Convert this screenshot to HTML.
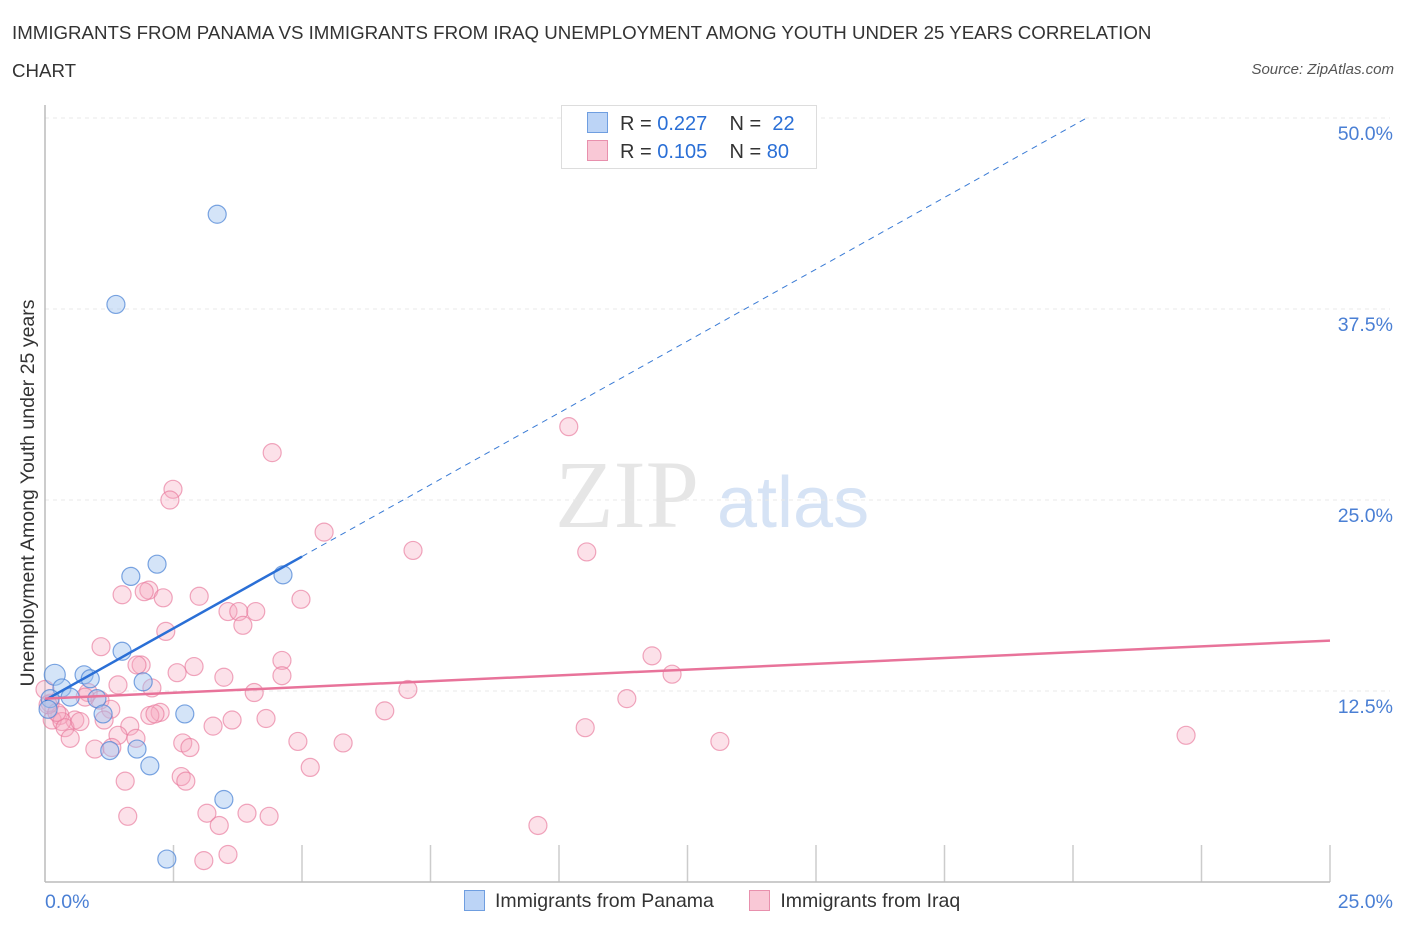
<!DOCTYPE html>
<html><head><meta charset="utf-8"><style>
body{margin:0;background:#fff;font-family:"Liberation Sans",sans-serif;}
#wrap{position:relative;width:1406px;height:930px;overflow:hidden;}
.t{position:absolute;white-space:nowrap;}
</style></head><body>
<div id="wrap">
<div class="t" style="left:12px;top:14px;font-size:18.7px;color:#333;line-height:38px;">IMMIGRANTS FROM PANAMA VS IMMIGRANTS FROM IRAQ UNEMPLOYMENT AMONG YOUTH UNDER 25 YEARS CORRELATION<br>CHART</div>
<div class="t" style="right:12px;top:61px;font-size:15px;color:#555;font-style:italic;">Source: ZipAtlas.com</div>
<svg id="svg" width="1406" height="930" style="position:absolute;left:0;top:0"></svg>
</div>
<script>
const panamaX=[3.35,1.38,2.18,1.67,4.63,1.50,0.19,0.76,0.88,0.33,1.91,0.10,1.01,2.72,1.13,1.26,1.79,2.04,3.48,2.37,0.49,0.06];
const panamaY=[43.7,37.8,20.8,20.0,20.1,15.1,13.56,13.56,13.3,12.7,13.1,12.0,12.0,11.0,11.0,8.6,8.7,7.6,5.4,1.5,12.1,11.3];
const iraqX=[10.19,4.42,2.49,2.43,5.43,7.16,10.54,2.02,1.50,1.93,2.30,3.00,4.98,3.56,3.77,4.10,3.85,2.35,1.09,1.87,1.79,2.90,2.57,4.61,4.61,11.81,12.20,3.48,1.42,2.08,7.06,4.07,11.32,0.84,1.07,0.78,0.10,1.28,6.61,2.24,2.04,2.14,3.64,4.30,3.27,1.65,1.15,0.58,0.29,0.14,0.33,0.39,0.68,1.42,0.49,10.51,1.77,2.68,4.92,5.80,13.13,22.20,2.82,0.97,1.30,5.16,2.65,1.56,2.74,1.61,3.15,3.93,4.36,3.39,9.59,3.56,3.09,0.0,0.06,0.23];
const iraqY=[29.8,28.1,25.7,25.0,22.9,21.7,21.6,19.1,18.8,19.0,18.6,18.7,18.5,17.7,17.7,17.7,16.8,16.4,15.4,14.2,14.2,14.1,13.7,14.5,13.5,14.8,13.6,13.4,12.9,12.7,12.6,12.4,12.0,12.4,11.9,12.1,11.7,11.3,11.2,11.1,10.9,11.0,10.6,10.7,10.2,10.2,10.6,10.6,10.9,10.6,10.5,10.1,10.5,9.6,9.4,10.1,9.4,9.1,9.2,9.1,9.2,9.6,8.8,8.7,8.8,7.5,6.9,6.6,6.6,4.3,4.5,4.5,4.3,3.7,3.7,1.8,1.4,12.6,11.6,11.1];
const panamaTrend=[11.9,1.88]; // intercept, slope
const iraqTrend=[12.0,0.152];
const yTicks=[12.5,25,37.5,50];
const yTickLabels=["12.5%","25.0%","37.5%","50.0%"];
const xTicks=[0,2.5,5,7.5,10,12.5,15,17.5,20,22.5,25];

const X0=45,X1=1330,Y0=882,Y50=118;
const sx=v=>X0+(X1-X0)*v/25;
const sy=v=>Y0-(Y0-Y50)*v/50;
const svg=document.getElementById('svg');
const NS='http://www.w3.org/2000/svg';
function mk(t,a,p){const e=document.createElementNS(NS,t);for(const k in a)e.setAttribute(k,a[k]);(p||svg).appendChild(e);return e;}

let wm=mk('text',{x:555,y:527,'font-size':96,'font-family':'Liberation Serif, serif',fill:'#e6e6e6'});wm.textContent='ZIP';


let wm2=mk('text',{x:717,y:527,'font-size':72,'font-family':'Liberation Sans, sans-serif',fill:'#d6e3f5'});wm2.textContent='atlas';



yTicks.forEach((v,i)=>{
  const g=mk('line',{x1:X0,x2:1390,y1:sy(v),y2:sy(v),stroke:'#e8e8e8','stroke-dasharray':'4 4'});
  
  
  const t=mk('text',{x:1393,y:sy(v)+22,'text-anchor':'end','font-size':19.5,fill:'#4a7fd4'});t.textContent=yTickLabels[i];
  
  
});
xTicks.forEach(v=>{
  if(v===0)return;
  const l=mk('line',{x1:sx(v),x2:sx(v),y1:845,y2:Y0,stroke:'#ccc','stroke-width':1.5});
  
  
});
let ax=mk('line',{x1:X0,x2:X1,y1:Y0,y2:Y0,stroke:'#bbb','stroke-width':1.5});


let ay=mk('line',{x1:X0,x2:X0,y1:105,y2:Y0,stroke:'#bbb','stroke-width':1.5});


let xl0=mk('text',{x:45,y:908,'font-size':19.5,fill:'#4a7fd4'});xl0.textContent='0.0%';


let xl1=mk('text',{x:1393,y:908,'text-anchor':'end','font-size':19.5,fill:'#4a7fd4'});xl1.textContent='25.0%';


let yt=mk('text',{x:0,y:0,'font-size':19.5,fill:'#333','text-anchor':'middle',transform:'translate(34,493) rotate(-90)'});yt.textContent='Unemployment Among Youth under 25 years';



iraqX.forEach((x,i)=>{
  const c=mk('circle',{cx:sx(x),cy:sy(iraqY[i]),r:9,fill:'rgba(246,170,192,0.35)',stroke:'rgba(232,120,155,0.65)','stroke-width':1.2});
  
  
});
panamaX.forEach((x,i)=>{
  const c=mk('circle',{cx:sx(x),cy:sy(panamaY[i]),r:i===6?10.5:9,fill:'rgba(160,195,240,0.45)',stroke:'rgba(80,135,215,0.75)','stroke-width':1.2});
  
  
});
const pEnd=(50-panamaTrend[0])/panamaTrend[1];
let pd=mk('line',{x1:sx(5),y1:sy(panamaTrend[0]+panamaTrend[1]*5),x2:sx(pEnd),y2:sy(50),stroke:'#3a7bd5','stroke-width':1,'stroke-dasharray':'6 5'});


let pl=mk('line',{x1:sx(0),y1:sy(panamaTrend[0]),x2:sx(5),y2:sy(panamaTrend[0]+panamaTrend[1]*5),stroke:'#2a6fd6','stroke-width':2.5});


let il=mk('line',{x1:sx(0),y1:sy(iraqTrend[0]),x2:sx(25),y2:sy(iraqTrend[0]+iraqTrend[1]*25),stroke:'#e8739a','stroke-width':2.5});


</script>
<div style="position:absolute;left:561px;top:105px;width:254px;height:62px;border:1px solid #ddd;background:#fff;font-size:20px;color:#333;">
 <div style="position:absolute;left:25px;top:6px;white-space:nowrap;"><span style="display:inline-block;width:19px;height:19px;background:#bcd4f6;border:1px solid #6f9ee0;vertical-align:-3px;margin-right:12px"></span>R = <span style="color:#2a6fd6">0.227</span>&nbsp;&nbsp;&nbsp; N = &nbsp;<span style="color:#2a6fd6">22</span></div>
 <div style="position:absolute;left:25px;top:34px;white-space:nowrap;"><span style="display:inline-block;width:19px;height:19px;background:#f9c8d6;border:1px solid #e890ad;vertical-align:-3px;margin-right:12px"></span>R = <span style="color:#2a6fd6">0.105</span>&nbsp;&nbsp;&nbsp; N = <span style="color:#2a6fd6">80</span></div>
</div>
<div style="position:absolute;left:464px;top:890px;font-size:19.5px;color:#333;white-space:nowrap;">
 <span><span style="display:inline-block;width:19px;height:19px;background:#bcd4f6;border:1px solid #6f9ee0;vertical-align:-4px;margin-right:10px"></span>Immigrants from Panama</span>
 <span style="margin-left:30px"><span style="display:inline-block;width:19px;height:19px;background:#f9c8d6;border:1px solid #e890ad;vertical-align:-4px;margin-right:10px"></span>Immigrants from Iraq</span>
</div>
</body></html>
